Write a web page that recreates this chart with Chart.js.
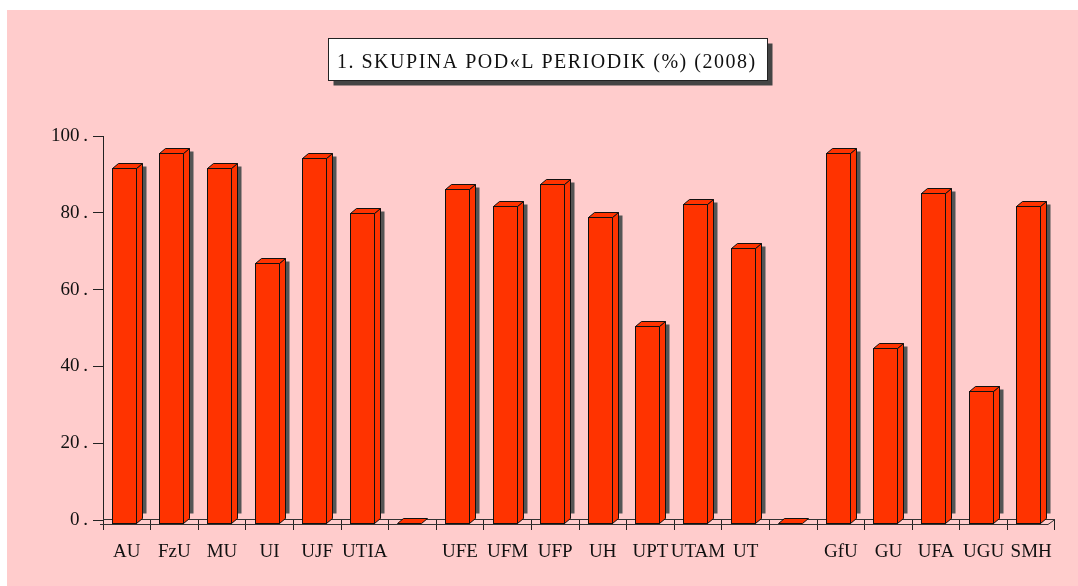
<!DOCTYPE html>
<html>
<head>
<meta charset="utf-8">
<script src="https://cdn.jsdelivr.net/npm/chart.js@4/dist/chart.umd.min.js"></script>
<style>
  html, body { margin: 0; padding: 0; background: #fff; }
  #wrap { width: 1078px; height: 586px; }
</style>
</head>
<body>
<div id="wrap"><canvas id="chart" width="1078" height="586"></canvas></div>
<script>
// data
const categories = ['AU', 'FzU', 'MU', 'UI', 'UJF', 'UTIA', '', 'UFE', 'UFM', 'UFP', 'UH', 'UPT', 'UTAM', 'UT', '', 'GfU', 'GU', 'UFA', 'UGU', 'SMH'];
const shares = [91.7, 95.6, 91.7, 67, 94.3, 80, 0, 86.2, 81.8, 87.5, 79, 50.5, 82.3, 70.8, 0, 95.6, 44.8, 85.2, 33.6, 81.8];
const yTicks = [0, 20, 40, 60, 80, 100];
const titleText = '1. SKUPINA POD\u00abL PERIODIK (%) (2008)';

const barRed = '#FF3300';
const serif = '"Liberation Serif", "DejaVu Serif", serif';

// pink panel behind everything
const background = {
    id: 'background',
    beforeDraw(chart) {
        const ctx = chart.ctx;
        ctx.save();
        ctx.fillStyle = '#ffffff';
        ctx.fillRect(0, 0, chart.width, chart.height);
        ctx.fillStyle = '#FFCCCC';
        ctx.fillRect(7, 10, chart.width - 7, chart.height - 10);
        ctx.restore();
    }
};

// 3D look: floor, bars with top and side faces, shadow, title box
const bars3d = {
    id: 'bars3d',
    afterDatasetsDraw(chart) {
        const ctx = chart.ctx;
        const area = chart.chartArea;
        const dx = 6, dy = 5;
        ctx.save();
        ctx.lineWidth = 1;

        // floor
        const base = Math.round(chart.scales.y.getPixelForValue(0)) + 0.5;
        ctx.strokeStyle = '#333';
        ctx.beginPath();
        ctx.moveTo(area.left - 3, base + 4);
        ctx.lineTo(area.right - 7, base + 4);
        ctx.lineTo(area.right, base - 1);
        ctx.lineTo(area.left, base - 1);
        ctx.stroke();

        const meta = chart.getDatasetMeta(0);
        meta.data.forEach((bar) => {
            const w = Math.round(bar.width);
            const left = Math.round(bar.x - w / 2 - 3) + 0.5;
            const right = left + w;
            const top = Math.round(bar.y) + 0.5;
            const bottom = Math.round(bar.base) + 3.5;
            const h = bottom - top;

            if (h > 8) {
                ctx.fillStyle = '#555';
                ctx.fillRect(right + dx, top - dy + 3, 4, h - 8);
            }

            ctx.strokeStyle = '#111';
            ctx.fillStyle = barRed;
            if (h > 4) {
                // front
                ctx.fillRect(left, top, w, h);
                ctx.strokeRect(left, top, w, h);
                // side
                ctx.beginPath();
                ctx.moveTo(right, top);
                ctx.lineTo(right + dx, top - dy);
                ctx.lineTo(right + dx, bottom - dy);
                ctx.lineTo(right, bottom);
                ctx.closePath();
                ctx.fill();
                ctx.stroke();
            }
            // top
            const t = h > 4 ? top : bottom;
            ctx.beginPath();
            ctx.moveTo(left, t);
            ctx.lineTo(left + dx, t - dy);
            ctx.lineTo(right + dx, t - dy);
            ctx.lineTo(right, t);
            ctx.closePath();
            ctx.fill();
            ctx.stroke();
        });

        // title box with shadow
        const bx = 328.5, by = 38.5, bw = 439, bh = 42;
        ctx.fillStyle = '#444';
        ctx.fillRect(bx + 5, by + 5, bw, bh);
        ctx.fillStyle = '#fff';
        ctx.fillRect(bx, by, bw, bh);
        ctx.strokeStyle = '#222';
        ctx.strokeRect(bx, by, bw, bh);
        ctx.fillStyle = '#111';
        ctx.font = '20px ' + serif;
        ctx.textBaseline = 'alphabetic';
        const plain = ctx.measureText(titleText).width;
        if ('letterSpacing' in ctx) {
            const extra = (418 - plain) / (titleText.length - 1);
            ctx.letterSpacing = extra.toFixed(2) + 'px';
        }
        ctx.fillText(titleText, 337, 68);
        ctx.restore();
    }
};

new Chart(document.getElementById('chart'), {
    type: 'bar',
    data: {
        labels: categories,
        datasets: [{
            data: shares,
            backgroundColor: 'rgba(0,0,0,0)',
            borderWidth: 0,
            categoryPercentage: 1,
            barPercentage: 0.5
        }]
    },
    options: {
        responsive: false,
        animation: false,
        layout: { padding: { top: 136, right: 23, left: 0, bottom: 0 } },
        plugins: {
            legend: { display: false },
            tooltip: { enabled: false }
        },
        scales: {
            x: {
                offset: true,
                afterFit(scale) { scale.height = 66; },
                grid: {
                    offset: true,
                    drawOnChartArea: false,
                    tickLength: 10,
                    color: (c) => (c.index === categories.length ? 'rgba(0,0,0,0)' : '#222')
                },
                border: { display: false },
                ticks: {
                    autoSkip: false,
                    maxRotation: 0,
                    padding: 11,
                    color: '#111',
                    font: { family: serif, size: 19 }
                }
            },
            y: {
                min: 0,
                max: 100,
                afterFit(scale) { scale.width = 103; },
                afterBuildTicks(scale) { scale.ticks = yTicks.map(v => ({ value: v })); },
                grid: {
                    drawOnChartArea: false,
                    tickLength: 10,
                    color: '#222'
                },
                border: { display: true, color: '#222' },
                ticks: {
                    padding: 5,
                    color: '#111',
                    font: { family: serif, size: 19 },
                    callback: (v) => v + '\u2009.'
                }
            }
        }
    },
    plugins: [background, bars3d]
});
</script>
</body>
</html>
